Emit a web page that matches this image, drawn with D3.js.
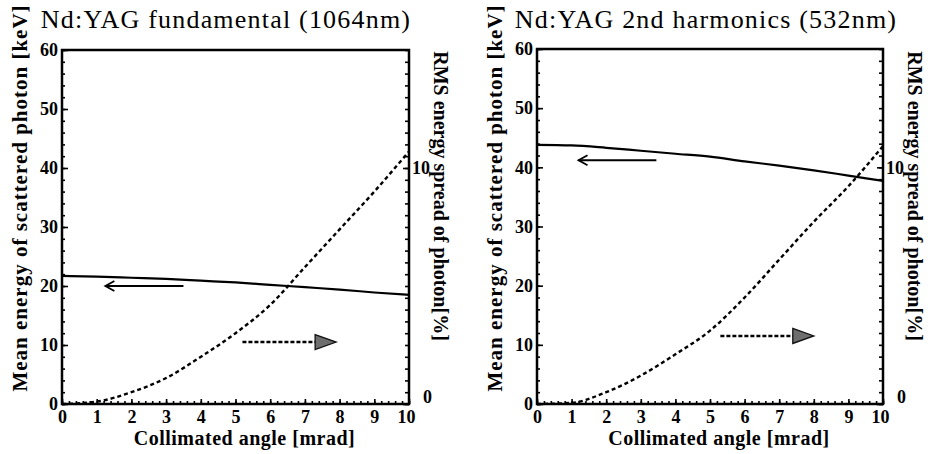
<!DOCTYPE html>
<html>
<head>
<meta charset="utf-8">
<script src="https://cdn.jsdelivr.net/npm/d3@7"></script>
<style>
  body { margin: 0; background: #fff; }
</style>
</head>
<body>
<svg id="chart" width="932" height="454"></svg>
<script>
// collimated angle [mrad]
var angle = [0, 1, 2, 3, 4, 5, 6, 7, 8, 9, 10];

// Nd:YAG fundamental (1064nm)
var fundEnergy = [21.7, 21.6, 21.4, 21.2, 20.9, 20.6, 20.2, 19.8, 19.4, 18.9, 18.5];
var fundSpread = [0, 0.1, 0.5, 1.1, 2.0, 3.0, 4.2, 5.8, 7.4, 9.0, 10.7];

// Nd:YAG 2nd harmonics (532nm)
var harmEnergy = [43.8, 43.7, 43.3, 42.8, 42.3, 41.8, 41.0, 40.3, 39.5, 38.6, 37.7];
var harmSpread = [0, 0.05, 0.5, 1.2, 2.1, 3.1, 4.5, 6.1, 7.7, 9.2, 10.9];

// tick labels
var xTicks = [0, 1, 2, 3, 4, 5, 6, 7, 8, 9, 10];
var energyTicks = [0, 10, 20, 30, 40, 50, 60];
var spreadTicks = [0, 10];

var SERIF = "'Liberation Serif', 'Times New Roman', serif";
var svg = d3.select("#chart");

function minorAxis(g, axis) {
  g.call(axis);
  g.selectAll("text").remove();
  g.select(".domain").remove();
}

function drawPanel(o) {
  var x = d3.scaleLinear().domain([0, 10]).range([o.left, o.right]);
  var y = d3.scaleLinear().domain([0, 60]).range([o.bottom, o.top]);
  var y2 = d3.scaleLinear().domain([0, 15]).range([o.bottom, o.top]);

  var g = svg.append("g");

  // title
  g.append("text")
    .attr("x", o.titleX).attr("y", 28)
    .attr("text-anchor", "middle")
    .style("font-family", SERIF)
    .style("font-size", "26px")
    .style("letter-spacing", "1.2px")
    .text(o.title);

  // minor ticks
  minorAxis(g.append("g").attr("transform", "translate(" + o.left + ",0)"),
    d3.axisLeft(y).tickValues(d3.range(0, 61, 2)).tickSize(-3));
  minorAxis(g.append("g").attr("transform", "translate(" + o.right + ",0)"),
    d3.axisRight(y2).tickValues(d3.range(0, 15.01, 0.5)).tickSize(-4));
  minorAxis(g.append("g").attr("transform", "translate(0," + o.bottom + ")"),
    d3.axisBottom(x).tickValues(d3.range(0, 10.01, 0.2)).tickSize(-3));

  // major ticks + labels
  var yl = g.append("g").attr("class", "ax").attr("transform", "translate(" + o.left + ",0)")
    .call(d3.axisLeft(y).tickValues(energyTicks).tickSize(-6).tickPadding(4));
  var xl = g.append("g").attr("class", "ax").attr("transform", "translate(0," + o.bottom + ")")
    .call(d3.axisBottom(x).tickValues(xTicks).tickSize(-5).tickPadding(6));
  var rl = g.append("g").attr("class", "ax").attr("transform", "translate(" + o.right + ",0)")
    .call(d3.axisRight(y2).tickValues(spreadTicks).tickSize(-6).tickPadding(3));

  g.selectAll(".domain").remove();
  g.selectAll(".tick line").attr("stroke", "#000").attr("stroke-width", 1.6);
  g.selectAll(".ax").attr("font-family", null).attr("font-size", null);
  g.selectAll(".ax text")
    .style("font-family", SERIF)
    .style("font-size", "18px")
    .style("font-weight", "bold")
    .attr("fill", "#000");
  rl.selectAll(".tick text").filter(function(d) { return d === 0; })
    .attr("x", 14).attr("dy", "-0.1em");
  xl.selectAll(".tick text").filter(function(d) { return d === 10; })
    .attr("dx", "-3");

  // frame
  g.append("rect")
    .attr("x", o.left).attr("y", o.top)
    .attr("width", o.right - o.left).attr("height", o.bottom - o.top)
    .attr("fill", "none").attr("stroke", "#000").attr("stroke-width", 2.5);

  // axis titles
  g.append("text")
    .attr("transform", "translate(" + (o.left - 35) + ",198) rotate(-90)")
    .attr("text-anchor", "middle")
    .style("font-family", SERIF)
    .style("font-size", "21px").style("font-weight", "bold")
    .style("letter-spacing", "1px")
    .text("Mean energy of scattered photon [keV]");
  g.append("text")
    .attr("transform", "translate(" + (o.right + 25) + ",196) rotate(90)")
    .attr("text-anchor", "middle")
    .style("font-family", SERIF)
    .style("font-size", "20px").style("font-weight", "bold")
    .text("RMS energy spread of photon[%]");
  g.append("text")
    .attr("x", (o.left + o.right) / 2 + 9).attr("y", 445)
    .attr("text-anchor", "middle")
    .style("font-family", SERIF)
    .style("font-size", "20px").style("font-weight", "bold")
    .style("letter-spacing", "0.5px")
    .text("Collimated angle [mrad]");

  // curves
  var energyLine = d3.line()
    .x(function(d, i) { return x(angle[i]); })
    .y(function(d) { return y(d); })
    .curve(d3.curveMonotoneX);
  var spreadLine = d3.line()
    .x(function(d, i) { return x(angle[i]); })
    .y(function(d) { return y2(d); })
    .curve(d3.curveMonotoneX);

  g.append("path").datum(o.energy)
    .attr("d", energyLine)
    .attr("fill", "none").attr("stroke", "#000").attr("stroke-width", 2.2);
  g.append("path").datum(o.spread)
    .attr("d", spreadLine)
    .attr("fill", "none").attr("stroke", "#000").attr("stroke-width", 2.4)
    .attr("stroke-dasharray", "4,3");

  // arrow pointing to left axis (solid)
  var a = o.solidArrow;
  var ay = y(a[2]), ax0 = x(a[0]), ax1 = x(a[1]);
  g.append("line")
    .attr("x1", ax0).attr("x2", ax1).attr("y1", ay).attr("y2", ay)
    .attr("stroke", "#000").attr("stroke-width", 1.8);
  g.append("path")
    .attr("d", "M" + (ax1 + 9) + "," + (ay - 5) + "L" + ax1 + "," + ay + "L" + (ax1 + 9) + "," + (ay + 5))
    .attr("fill", "none").attr("stroke", "#000").attr("stroke-width", 1.8);

  // arrow pointing to right axis (dashed)
  var b = o.dashArrow;
  var by = y(b[2]), bx0 = x(b[0]), bx1 = x(b[1]);
  g.append("line")
    .attr("x1", bx0).attr("x2", bx1 - 18).attr("y1", by).attr("y2", by)
    .attr("stroke", "#000").attr("stroke-width", 2.6)
    .attr("stroke-dasharray", "4,2");
  g.append("path")
    .attr("d", "M" + (bx1 - 21) + "," + (by - 7.5) + "L" + bx1 + "," + by + "L" + (bx1 - 21) + "," + (by + 7.5) + "Z")
    .attr("fill", "#6e6e6e").attr("stroke", "#111").attr("stroke-width", 1.3);
}

drawPanel({
  left: 62, right: 409, top: 50, bottom: 404,
  title: "Nd:YAG fundamental (1064nm)", titleX: 226,
  energy: fundEnergy, spread: fundSpread,
  solidArrow: [3.5, 1.25, 20], dashArrow: [5.2, 7.9, 10.5]
});

drawPanel({
  left: 537, right: 883, top: 49, bottom: 404,
  title: "Nd:YAG 2nd harmonics (532nm)", titleX: 706,
  energy: harmEnergy, spread: harmSpread,
  solidArrow: [3.45, 1.2, 41.2], dashArrow: [5.3, 8.0, 11.5]
});
</script>
</body>
</html>
